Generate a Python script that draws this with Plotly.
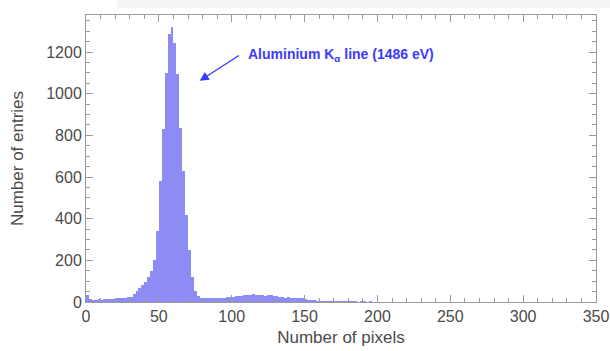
import numpy as np
import plotly.graph_objects as go

# Histogram of cluster sizes: bin width 2 pixels, 0..350
bin_width = 2
counts_low = [35, 14, 12, 12, 13, 12, 14, 15, 14, 16, 17, 18, 19, 21, 22,
              26, 38, 52, 68, 80, 98, 118, 150, 200, 340, 580, 830, 1100,
              1285, 1320, 1245, 1095, 835, 630, 420, 250, 120, 55, 28, 20]
counts_mid = [20, 18, 19, 18, 17, 19, 18, 20, 22, 24,
              26, 28, 30, 29, 32, 33, 35, 38, 36, 34, 33, 30, 32, 34, 30,
              27, 25, 22, 20, 22, 20, 18, 19, 17, 19, 15, 10, 7, 5, 4,
              3, 3, 2, 2, 2, 1, 2, 1, 1, 2, 1, 1, 1, 0, 1, 1, 0, 1, 0, 0]
counts = counts_low + counts_mid
n_bins = 350 // bin_width
counts = counts + [0] * (n_bins - len(counts))
edges = np.arange(0, 350 + bin_width, bin_width)
centers = edges[:-1] + bin_width / 2

x_ticks = [0, 50, 100, 150, 200, 250, 300, 350]
y_ticks = [0, 200, 400, 600, 800, 1000, 1200]

tick_font = dict(family="Liberation Sans, Arial, sans-serif", size=16, color="#4a4a4a")
title_font = dict(family="Liberation Sans, Arial, sans-serif", size=17, color="#4a4a4a")

fig = go.Figure()
fig.add_trace(go.Bar(
    x=centers, y=counts, width=bin_width,
    marker=dict(color="rgb(140,140,244)", line=dict(width=0)),
    showlegend=False,
))

fig.add_annotation(
    x=78, y=1062, ax=106, ay=1188, xref="x", yref="y", axref="x", ayref="y",
    showarrow=True, arrowhead=2, arrowsize=1.3, arrowwidth=1.4, arrowcolor="#3a3aff",
    text="",
)
fig.add_annotation(
    x=110, y=1186, xref="x", yref="y", xanchor="left", yanchor="middle",
    showarrow=False,
    text="<b>Aluminium K<sub>α</sub> line (1486 eV)</b>",
    font=dict(family="Liberation Sans, Arial, sans-serif", size=14, color="#3a3aff"),
)

# faint grey band along the top edge
fig.add_shape(type="rect", xref="paper", yref="paper", x0=0.06, x1=1.05, y0=1.024, y1=1.06,
              fillcolor="#f5f5f5", line=dict(width=0), layer="below")

axis_common = dict(
    showline=True, linecolor="#9a9a9a", linewidth=1, mirror="allticks",
    ticks="inside", ticklen=7, tickcolor="#9a9a9a", tickwidth=1,
    showgrid=False, zeroline=False, tickfont=tick_font, ticklabeloverflow="allow",
    automargin=False,
)

fig.update_xaxes(
    range=[0, 350], tickvals=x_ticks, ticktext=[str(v) for v in x_ticks],
    minor=dict(dtick=10, ticks="inside", ticklen=4, tickcolor="#9a9a9a"),
    title=dict(text="Number of pixels", font=title_font, standoff=6),
    **axis_common,
)
fig.update_yaxes(
    range=[0, 1378], tickvals=y_ticks, ticktext=[str(v) for v in y_ticks],
    minor=dict(dtick=50, ticks="inside", ticklen=4, tickcolor="#9a9a9a"),
    title=dict(text="Number of entries", font=title_font, standoff=18),
    **axis_common,
)

fig.update_layout(
    width=610, height=351,
    margin=dict(l=86, r=14, t=15, b=49),
    paper_bgcolor="white", plot_bgcolor="white",
    bargap=0,
)

fig.write_html("out.html")
